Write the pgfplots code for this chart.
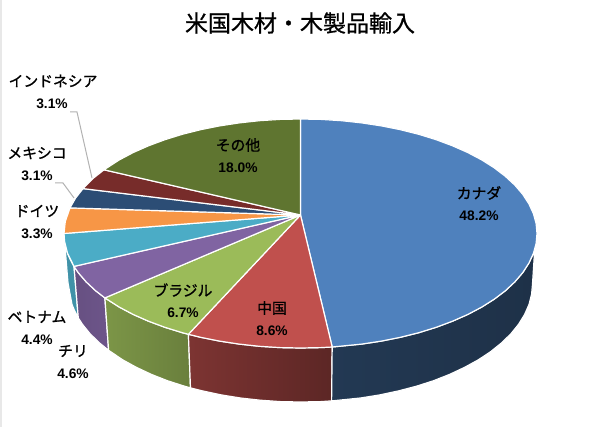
\documentclass[border=0pt]{standalone}
\usepackage{fontspec}
\setmainfont{Noto Sans CJK JP}
\newfontfamily\numfont{Liberation Sans}
\usepackage{pgfplots}
\pgfplotsset{compat=1.18}
\definecolor{cBlue}{HTML}{4F81BD}
\definecolor{cRed}{HTML}{C0504D}
\definecolor{cGreen}{HTML}{9BBB59}
\definecolor{cPurple}{HTML}{8064A2}
\definecolor{cTeal}{HTML}{4BACC6}
\definecolor{cOrange}{HTML}{F79646}
\definecolor{cNavy}{HTML}{2C4D75}
\definecolor{cMaroon}{HTML}{772C2A}
\definecolor{cOlive}{HTML}{5F7530}
\tikzset{
    Face/.style={draw=white, line width=1.2pt, line join=round},
    Label/.style={font=\fontsize{14.8}{16}\selectfont\addfontfeature{FakeBold=1.1}, inner sep=0pt},
    Pct/.style={font=\fontsize{13.8}{15}\selectfont\numfont\bfseries, inner sep=0pt},
    Leader/.style={draw=black!30, line width=1pt},
}
\begin{document}
\begin{tikzpicture}
\begin{axis}[
    x=1pt, y=1pt,
    xmin=0, xmax=600, ymin=0, ymax=427,
    y dir=reverse,
    hide axis,
    clip=false,
]
% page
\addplot[draw=none, fill=white] coordinates {(0,0) (600,0) (600,427) (0,427)} --cycle;
\addplot[draw=none, fill=black!9] coordinates {(0,0) (2,0) (2,427) (0,427)} --cycle;

% side walls, back to front
\addplot[Face, left color=cTeal!85!black, right color=cTeal!85!black] coordinates {(64.6,241.5) (67.6,253.4) (70.5,260) (74.0,266.4) (78.3,317.9) (74.5,310.5) (72,304.5) (68,283)} --cycle;
\addplot[Face, left color=cPurple!80!black, right color=cPurple!85!black] coordinates {(74.0,266.4) (78.3,272.7) (86.2,281.9) (95.7,290.8) (104.9,297.9) (108.6,350.3) (99.6,343) (90.2,333.9) (82.5,324.4) (78.3,317.9)} --cycle;
\addplot[Face, left color=cGreen!80!black, right color=cGreen!68!black] coordinates {(104.9,297.9) (119.3,307.1) (133.3,314.5) (148.5,321.2) (164.9,327.3) (182.3,332.7) (188.4,334.3) (190.5,387.9) (184.5,386.2) (167.4,380.7) (151.4,374.4) (136.5,367.4) (122.8,359.9) (108.6,350.3)} --cycle;
\addplot[Face, left color=cRed!65!black, right color=cRed!48!black] coordinates {(188.4,334.3) (200.6,337.3) (219.6,341.1) (239.3,344.1) (259.4,346.3) (279.9,347.6) (300.5,348) (321.1,347.6) (332.2,347) (331.6,400.9) (320.7,401.6) (300.5,402) (280.3,401.6) (260.2,400.2) (240.5,398) (221.2,394.9) (202.5,390.9) (190.5,387.9)} --cycle;
\addplot[Face, left color=cBlue!44!black, right color=cBlue!38!black] coordinates {(332.2,347) (361.7,344.1) (381.4,341.1) (400.4,337.3) (418.8,332.7) (436.2,327.3) (452.5,321.2) (467.7,314.5) (481.7,307.1) (494.2,299.2) (505.3,290.8) (514.8,281.9) (522.7,272.7) (528.9,263.1) (533.4,253.4) (534.7,249.4) (532.5,284) (531.6,294.3) (529,304.5) (524.6,314.5) (518.5,324.4) (510.8,333.9) (501.4,343) (490.6,351.7) (478.2,359.9) (464.5,367.4) (449.6,374.4) (433.6,380.7) (416.5,386.2) (398.5,390.9) (379.8,394.9) (360.5,398) (331.6,400.9)} --cycle;

% top faces, clockwise from 12 o'clock
\addplot[Face, fill=cBlue] coordinates {(300.5,215) (300.5,119) (321.1,119.4) (341.6,120.7) (361.7,122.9) (381.4,125.9) (400.4,129.7) (418.8,134.3) (436.2,139.7) (452.5,145.8) (467.7,152.5) (481.7,159.9) (494.2,167.8) (505.3,176.3) (514.8,185.1) (522.7,194.3) (528.9,203.9) (533.4,213.6) (536.1,223.5) (537,233.5) (536.1,243.5) (533.4,253.4) (528.9,263.1) (522.7,272.7) (514.8,281.9) (505.3,290.8) (494.2,299.2) (481.7,307.1) (467.7,314.5) (452.5,321.2) (436.2,327.3) (418.8,332.7) (400.4,337.3) (381.4,341.1) (361.7,344.1) (332.2,347)} --cycle;
\addplot[Face, fill=cRed] coordinates {(300.5,215) (332.2,347) (321.1,347.6) (300.5,348) (279.9,347.6) (259.4,346.3) (239.3,344.1) (219.6,341.1) (200.6,337.3) (188.4,334.3)} --cycle;
\addplot[Face, fill=cGreen] coordinates {(300.5,215) (188.4,334.3) (182.3,332.7) (164.9,327.3) (148.5,321.2) (133.3,314.5) (119.3,307.1) (104.9,297.9)} --cycle;
\addplot[Face, fill=cPurple] coordinates {(300.5,215) (104.9,297.9) (95.7,290.8) (86.2,281.9) (78.3,272.7) (74.0,266.4)} --cycle;
\addplot[Face, fill=cTeal] coordinates {(300.5,215) (74.0,266.4) (67.6,253.4) (64.6,241.5) (64,233.5)} --cycle;
\addplot[Face, fill=cOrange] coordinates {(300.5,215) (64,233.5) (65.3,221.5) (70,207.9)} --cycle;
\addplot[Face, fill=cNavy] coordinates {(300.5,215) (70,207.9) (75.6,198.1) (83,188.6)} --cycle;
\addplot[Face, fill=cMaroon] coordinates {(300.5,215) (83,188.6) (93.6,178) (104,169.8)} --cycle;
\addplot[Face, fill=cOlive] coordinates {(300.5,215) (104,169.8) (119.3,159.9) (133.3,152.5) (148.5,145.8) (164.9,139.7) (182.3,134.3) (200.6,129.7) (219.6,125.9) (239.3,122.9) (259.4,120.7) (279.9,119.4) (300.5,119)} --cycle;

% leader lines
\addplot[Leader] coordinates {(70,112) (77,112) (92,178)};
\addplot[Leader] coordinates {(55,183) (63,183) (74,198)};

% text
\node[font=\fontsize{23}{26}\selectfont\addfontfeature{FakeBold=0.8}, inner sep=0pt] at (axis cs:300,23) {米国木材・木製品輸入};
\node[Label] at (axis cs:479,193) {カナダ};
\node[Pct] at (axis cs:479,216) {48.2\%};
\node[Label] at (axis cs:238,145) {その他};
\node[Pct] at (axis cs:238,168) {18.0\%};
\node[Label] at (axis cs:272,308) {中国};
\node[Pct] at (axis cs:272,331) {8.6\%};
\node[Label] at (axis cs:183,290) {ブラジル};
\node[Pct] at (axis cs:183,313) {6.7\%};
\node[Label] at (axis cs:73,351) {チリ};
\node[Pct] at (axis cs:73,374) {4.6\%};
\node[Label] at (axis cs:37,317) {ベトナム};
\node[Pct] at (axis cs:37,340) {4.4\%};
\node[Label] at (axis cs:37,211) {ドイツ};
\node[Pct] at (axis cs:37,234) {3.3\%};
\node[Label] at (axis cs:37,153) {メキシコ};
\node[Pct] at (axis cs:37,176) {3.1\%};
\node[Label] at (axis cs:53,81) {インドネシア};
\node[Pct] at (axis cs:52,104) {3.1\%};
\end{axis}
\end{tikzpicture}
\end{document}
